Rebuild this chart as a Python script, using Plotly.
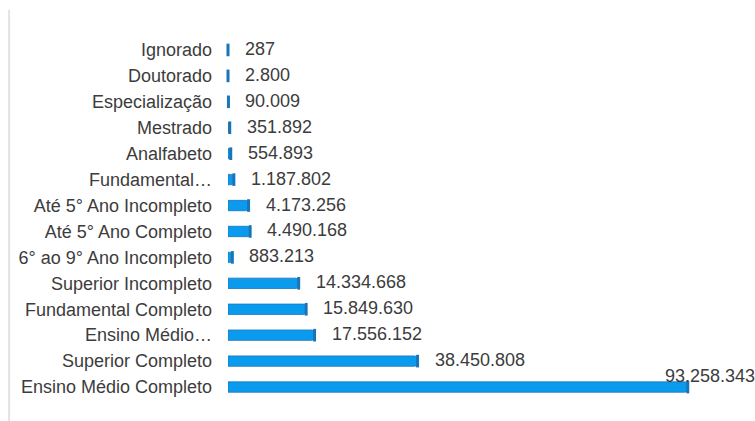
import plotly.graph_objects as go

# Escolaridade -> quantidade
categorias = [
    "Ignorado",
    "Doutorado",
    "Especialização",
    "Mestrado",
    "Analfabeto",
    "Fundamental…",
    "Até 5° Ano Incompleto",
    "Até 5° Ano Completo",
    "6° ao 9° Ano Incompleto",
    "Superior Incompleto",
    "Fundamental Completo",
    "Ensino Médio…",
    "Superior Completo",
    "Ensino Médio Completo",
]
valores = [
    287,
    2800,
    90009,
    351892,
    554893,
    1187802,
    4173256,
    4490168,
    883213,
    14334668,
    15849630,
    17556152,
    38450808,
    93258343,
]


def fmt_br(v):
    return f"{v:,}".replace(",", ".")


AZUL = "#0b9bee"
AZUL_ESCURO = "#1a75b8"
TEXTO = "#3c3c3c"
FONTE = "Liberation Sans, Arial, sans-serif"

fig = go.Figure()

fig.add_trace(go.Bar(
    y=categorias,
    x=valores,
    orientation="h",
    marker=dict(color=AZUL, line=dict(color=AZUL_ESCURO, width=0.8), cornerradius=3),
    width=0.4,
    hoverinfo="skip",
))

# tampa escura no fim de cada barra (efeito cilíndrico)
fig.add_trace(go.Scatter(
    y=categorias,
    x=valores,
    mode="markers",
    marker=dict(symbol="line-ns", size=9, line=dict(color=AZUL_ESCURO, width=3)),
    hoverinfo="skip",
    cliponaxis=False,
))

anots = []
for i, (c, v) in enumerate(zip(categorias, valores)):
    ultimo = i == len(valores) - 1
    anots.append(dict(
        x=v, y=c, xref="x", yref="y",
        text=fmt_br(v),
        showarrow=False,
        xanchor="left",
        yanchor="middle",
        xshift=-25 if ultimo else 15,
        yshift=11 if ultimo else 1,
        font=dict(family=FONTE, size=18, color=TEXTO),
    ))

fig.update_layout(
    width=755,
    height=421,
    margin=dict(l=228, r=34, t=37, b=21),
    paper_bgcolor="white",
    plot_bgcolor="white",
    showlegend=False,
    bargap=0.6,
    annotations=anots,
    xaxis=dict(
        range=[0, 100_000_000],
        showgrid=False,
        zeroline=False,
        showticklabels=False,
        showline=False,
        fixedrange=True,
    ),
    yaxis=dict(
        range=[len(categorias) - 0.5, -0.5],
        showgrid=False,
        zeroline=False,
        showline=False,
        ticks="",
        ticklabelstandoff=15,
        tickfont=dict(family=FONTE, size=18, color=TEXTO),
        fixedrange=True,
    ),
    shapes=[dict(
        type="line",
        xref="paper", x0=-0.444, x1=-0.444,
        yref="paper", y0=-0.06, y1=1.075,
        line=dict(color="#e2e2e2", width=2),
    )],
)

fig.write_html("out.html")
